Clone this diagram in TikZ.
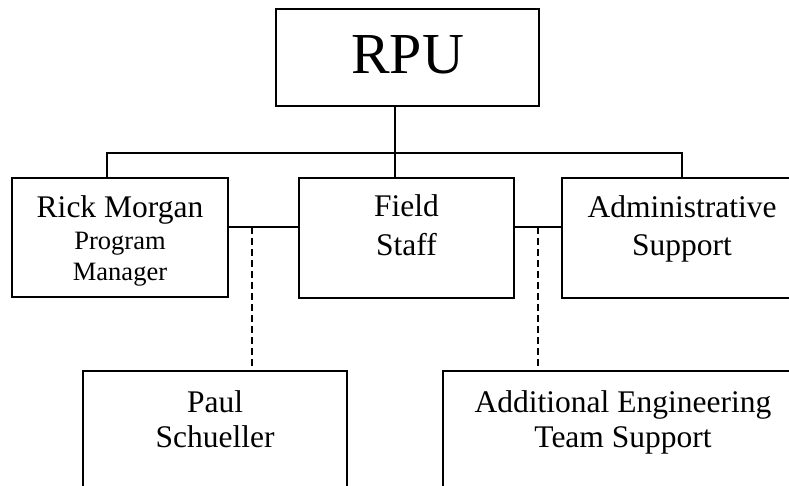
\documentclass[tikz,border=0pt]{standalone}
\usepackage{fontspec}
\setmainfont{Liberation Serif}
\begin{document}
\begin{tikzpicture}[x=1pt,y=-1pt,
  box/.style={draw=black,line width=2.4pt,rectangle,inner sep=0pt,outer sep=0pt,fill=none},
  conn/.style={draw=black,line width=2.2pt},
  dconn/.style={draw=black,line width=2.2pt,dash pattern=on 7pt off 4pt},
  big/.style={anchor=base,inner sep=0pt,font=\fontsize{58}{62}\selectfont},
  main/.style={anchor=base,inner sep=0pt,font=\fontsize{31.5}{36}\selectfont},
  sub/.style={anchor=base,inner sep=0pt,font=\fontsize{26.5}{30}\selectfont}]
\clip (0,0) rectangle (789,486);
\fill[white] (0,0) rectangle (789,486);
% boxes
\node[box,minimum width=263pt,minimum height=97pt] (rpu) at (407.5,57.5) {};
\node[box,minimum width=216pt,minimum height=119pt] (rick) at (120,237.5) {};
\node[box,minimum width=215pt,minimum height=120pt] (field) at (406.5,238) {};
\node[box,minimum width=240pt,minimum height=120pt] (admin) at (682,238) {};
\node[box,minimum width=264pt,minimum height=160pt] (paul) at (215,451) {};
\node[box,minimum width=360pt,minimum height=160pt] (addl) at (623,451) {};
% texts
\node[big] (trpu) at (407.5,74) {RPU};
\node[main] (trick1) at (120,218) {Rick Morgan};
\node[sub] (trick2) at (120,250) {Program};
\node[sub] (trick3) at (120,280) {Manager};
\node[main] (tfield1) at (406.5,217) {Field};
\node[main] (tfield2) at (406.5,255) {Staff};
\node[main] (tadmin1) at (682,218) {Administrative};
\node[main] (tadmin2) at (682,255) {Support};
\node[main] (tpaul1) at (215,412) {Paul};
\node[main] (tpaul2) at (215,447) {Schueller};
\node[main] (taddl1) at (623,412) {Additional Engineering};
\node[main] (taddl2) at (623,447) {Team Support};
% junctions
\coordinate (jl) at (107,153);
\coordinate (jm) at (395,153);
\coordinate (jr) at (682,153);
\coordinate (cy) at (0,227);
\coordinate (dl) at (252,227);
\coordinate (dr) at (538,227);
% connectors
\draw[conn] (rpu.south -| jm) -- (field.north -| jm);
\draw[conn] (rick.north -| jl) -- (jl) -- (jr) -- (admin.north -| jr);
\draw[conn] (rick.east |- cy) -- (field.west |- cy);
\draw[conn] (field.east |- cy) -- (admin.west |- cy);
\draw[dconn] (dl) -- (paul.north -| dl);
\draw[dconn] (dr) -- (addl.north -| dr);
\end{tikzpicture}
\end{document}
